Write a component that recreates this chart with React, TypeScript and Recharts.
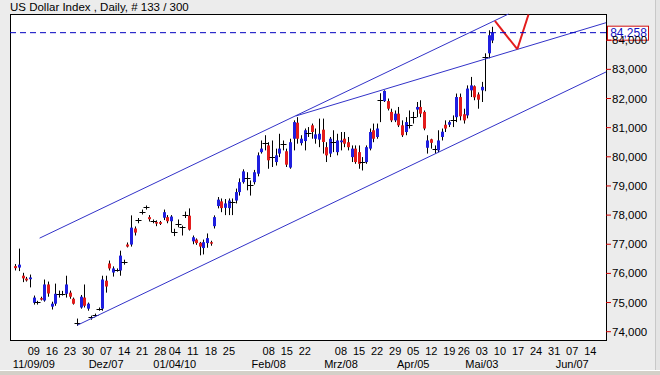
import React from 'react';
import { ComposedChart, Bar, XAxis, YAxis, ReferenceLine } from 'recharts';

// daily OHLC (bar 0 = early Nov 2009)
const opens = [
  76.25, 76.2, 75.92, 75.82, 75.8, 74.99, 75.0, 75.15, 75.07, 75.62,
  74.86, 74.96, 75.3, 75.31, 75.3, 75.34, 75.13, 74.3, 74.83, 75.17,
  74.79, 74.47, 74.53, 74.76, 74.79, 75.75, 76.34, 76.03, 76.1, 76.1,
  76.37, 76.99, 76.99, 77.54, 77.8, 78.08, 78.24, 77.93, 77.78, 77.76,
  77.76, 77.91, 77.93, 77.79, 77.39, 77.71, 77.6, 78.0, 77.98, 77.1,
  77.16, 77.05, 76.87, 77.04, 77.07, 77.62, 78.31, 78.47, 78.25, 78.24,
  78.42, 78.5, 78.79, 79.13, 79.25, 79.02, 79.13, 79.42, 80.16, 80.46,
  80.39, 79.98, 79.82, 80.11, 80.41, 80.19, 79.63, 80.62, 81.17, 80.47,
  80.54, 80.83, 81.08, 80.62, 80.59, 80.93, 80.33, 80.11, 80.5, 80.16,
  80.5, 80.62, 80.5, 79.99, 80.28, 80.16, 79.8, 79.82, 80.28, 80.91,
  80.68, 81.95, 81.91, 81.91, 81.54, 81.25, 81.48, 81.08, 80.85, 81.08,
  81.36, 81.62, 81.71, 81.54, 80.31, 80.6, 80.26, 80.22, 80.68, 81.1,
  81.1, 81.23, 81.36, 82.05, 81.46, 81.42, 82.28, 82.42, 82.14, 82.28,
  83.38, 83.55, 83.99,
];
const highs = [
  76.32, 76.85, 76.02, 75.88, 75.96, 75.24, 75.06, 75.2, 75.79, 75.72,
  75.03, 75.65, 75.41, 75.4, 75.92, 75.41, 75.17, 74.45, 75.26, 75.62,
  75.0, 74.55, 74.62, 74.83, 75.92, 75.92, 76.44, 76.24, 76.17, 76.78,
  76.47, 77.06, 77.99, 77.61, 77.9, 78.19, 78.33, 78.0, 77.85, 77.82,
  77.8, 78.19, 78.0, 78.0, 77.53, 77.85, 77.64, 78.12, 78.23, 77.3,
  77.2, 77.08, 77.16, 77.37, 77.12, 77.99, 78.62, 78.57, 78.55, 78.57,
  78.57, 78.91, 79.26, 79.57, 79.47, 79.19, 79.55, 80.15, 80.56, 80.74,
  80.5, 80.56, 80.28, 80.79, 80.56, 80.28, 80.62, 81.25, 81.36, 80.74,
  80.97, 81.02, 81.14, 80.97, 81.31, 81.31, 80.5, 80.68, 80.91, 80.79,
  80.85, 80.85, 80.68, 80.39, 80.39, 80.39, 79.99, 80.39, 80.97, 81.14,
  81.14, 82.18, 82.28, 82.0, 81.65, 81.59, 81.71, 81.25, 81.36, 81.59,
  81.54, 81.88, 81.94, 81.59, 80.74, 80.62, 80.39, 80.91, 80.97, 81.25,
  81.25, 81.42, 82.17, 82.17, 81.65, 82.45, 82.74, 82.45, 82.21, 82.57,
  83.55, 84.34, 84.46,
];
const lows = [
  76.1, 76.08, 75.7, 75.72, 75.52, 74.93, 74.93, 75.07, 75.03, 75.2,
  74.76, 74.89, 75.17, 75.24, 75.17, 75.13, 74.93, 74.2, 74.79, 74.83,
  74.72, 74.41, 74.5, 74.72, 74.72, 75.34, 76.1, 75.89, 76.06, 75.92,
  76.3, 76.89, 76.92, 77.3, 77.72, 78.02, 78.19, 77.78, 77.72, 77.62,
  77.66, 77.83, 77.72, 77.41, 77.28, 77.58, 77.3, 77.9, 77.47, 77.0,
  76.98, 76.62, 76.65, 76.88, 76.95, 77.54, 78.23, 78.1, 78.0, 78.0,
  78.0, 78.4, 78.67, 79.08, 78.85, 78.67, 79.05, 79.33, 80.11, 80.22,
  79.59, 79.65, 79.7, 79.99, 80.22, 79.65, 79.59, 80.22, 80.45, 80.39,
  80.22, 80.68, 80.62, 80.45, 80.33, 80.11, 79.82, 79.99, 80.16, 80.05,
  80.22, 80.33, 80.22, 79.82, 79.76, 79.59, 79.53, 79.76, 80.22, 80.5,
  80.62, 81.19, 81.88, 81.59, 81.19, 81.19, 81.02, 80.68, 80.74, 80.97,
  81.14, 81.36, 81.36, 80.91, 80.11, 80.28, 80.11, 80.16, 80.56, 80.85,
  81.02, 81.02, 81.19, 81.25, 81.14, 81.32, 82.05, 81.94, 81.65, 81.88,
  82.25, 83.38, 83.9,
];
const closes = [
  76.18, 76.3, 75.83, 75.76, 75.86, 75.17, 75.02, 75.1, 75.62, 75.31,
  74.96, 75.3, 75.31, 75.3, 75.62, 75.2, 74.96, 74.31, 75.2, 74.89,
  74.96, 74.49, 74.56, 74.79, 75.79, 75.55, 76.17, 76.17, 76.12, 76.61,
  76.39, 76.92, 77.57, 77.4, 77.82, 78.12, 78.27, 77.86, 77.8, 77.71,
  77.7, 78.1, 77.79, 77.95, 77.41, 77.7, 77.56, 78.02, 77.5, 77.24,
  77.04, 76.92, 77.07, 77.21, 77.02, 77.93, 78.53, 78.24, 78.4, 78.5,
  78.45, 78.79, 79.13, 79.5, 79.27, 79.0, 79.47, 80.05, 80.28, 80.43,
  79.88, 80.0, 80.05, 80.28, 80.43, 79.73, 80.5, 81.19, 80.62, 80.62,
  80.91, 80.8, 80.85, 80.77, 80.79, 80.51, 80.05, 80.62, 80.48, 80.56,
  80.56, 80.45, 80.33, 80.28, 79.82, 79.76, 79.82, 80.33, 80.85, 80.62,
  80.97, 81.92, 82.26, 81.65, 81.25, 81.48, 81.08, 80.74, 81.19, 81.1,
  81.38, 81.71, 81.48, 80.97, 80.56, 80.48, 80.24, 80.56, 80.86, 80.97,
  81.19, 81.25, 82.05, 81.39, 81.25, 82.34, 82.45, 82.04, 81.96, 82.4,
  83.42, 84.17, 84.258,
];

const dayTicks = [5, 10, 15, 20, 25, 30, 35, 40, 44, 49, 54, 59, 70, 75, 80, 90, 95, 100, 105, 110, 115, 120, 124, 129, 134, 139, 144, 149, 154, 159];
const dayLabels = ['09', '16', '23', '30', '07', '14', '21', '28', '04', '11', '18', '25', '08', '15', '22', '08', '15', '22', '29', '05', '12', '19', '26', '03', '10', '17', '24', '31', '07', '14'];
const monthTicks = [5, 25, 44, 70, 90, 110, 129, 154];
const monthLabels = ['11/09/09', 'Dez/07', '01/04/10', 'Feb/08', 'Mrz/08', 'Apr/05', 'Mai/03', 'Jun/07'];
const priceTicks = [74, 75, 76, 77, 78, 79, 80, 81, 82, 83, 84];
const lastClose = 84.258;

// drawn trend lines, [x1, y1, x2, y2] in bar index / price
const channelLow = [17, 74.22, 163.35, 82.91];
const channelHigh = [6.6, 77.21, 136.4, 84.9];
const resistance = [77.5, 81.4, 163.35, 84.6];
const projection = [[132.6, 84.66], [138.8, 83.69], [141.9, 84.88]];

const font = '"Liberation Sans", Arial, sans-serif';
const upColor = '#1f1fe0';
const downColor = '#e31c1c';
const lineColor = '#3232c8';

const data = opens.map((o, i) => ({
  i,
  o,
  h: highs[i],
  l: lows[i],
  c: closes[i],
  range: [lows[i], highs[i]],
}));

const fmt = (v: number) => v.toFixed(3).replace('.', ',');

const Candle = (props: any) => {
  const { x, y, width, height, payload } = props;
  if (!payload || height == null) return null;
  const { o, h, l, c } = payload;
  const k = height / (h - l);
  const py = (v: number) => y + (h - v) * k;
  const cx = Math.round(x + width / 2) + 0.5;
  const top = py(Math.max(o, c));
  const bodyH = py(Math.min(o, c)) - top;
  return (
    <g>
      <line x1={cx} x2={cx} y1={y} y2={y + height} stroke="#000" />
      {bodyH < 1.2 ? (
        <line x1={cx - 3} x2={cx + 3} y1={Math.round(top) + 0.5} y2={Math.round(top) + 0.5} stroke="#000" />
      ) : (
        <rect x={cx - 1.5} y={top} width={3} height={bodyH} fill={c >= o ? upColor : downColor} />
      )}
    </g>
  );
};

const DayTick = (props: any) => {
  const { x, y, payload } = props;
  const k = dayTicks.indexOf(payload.value);
  const m = monthTicks.indexOf(payload.value);
  return (
    <g fontFamily={font} fontSize={11} fill="#000">
      <text x={x} y={y + 15} textAnchor="middle">{dayLabels[k]}</text>
      {m >= 0 && (
        <text x={x} y={y + 28} textAnchor="middle">{monthLabels[m]}</text>
      )}
    </g>
  );
};

const LastLabel = (props: any) => {
  const { viewBox } = props;
  const x = viewBox.x + viewBox.width + 1;
  const y = viewBox.y;
  return (
    <g>
      <rect x={x + 0.5} y={y - 6.5} width={41} height={14} fill="#fff" stroke="#d01010" />
      <text x={x + 21.5} y={y + 4.5} textAnchor="middle" fontFamily={font} fontSize={12} fill="#1010c0">
        {fmt(lastClose)}
      </text>
    </g>
  );
};

export default function App() {
  return (
    <div style={{ position: 'absolute', left: 0, top: 0, width: 660, height: 375, background: '#ececec', overflow: 'hidden' }}>
      <div style={{ position: 'absolute', left: 10, top: 1, fontFamily: font, fontSize: 11.5, color: '#000' }}>
        US Dollar Index , Daily, # 133 / 300
      </div>
      <div style={{ position: 'absolute', left: 10, top: 14, width: 597, height: 327, background: '#fff', border: '1px solid #000', boxSizing: 'border-box' }} />
      <div style={{ position: 'absolute', left: 655, top: 0, width: 5, height: 370, background: '#e4e4e4', borderLeft: '1px solid #c8c8c8' }} />
      <div style={{ position: 'absolute', left: 0, top: 370, width: 660, height: 5, background: '#d4d0c8', borderTop: '1px solid #fff' }} />
      <div style={{ position: 'absolute', left: 0, top: 0 }}>
        <ComposedChart width={660} height={375} data={data} margin={{ top: 14, right: 0, bottom: 0, left: 10 }}>
          <XAxis
            dataKey="i"
            type="number"
            domain={[-1.6, 163.35]}
            allowDataOverflow
            ticks={dayTicks}
            interval={0}
            tick={<DayTick />}
            tickLine={false}
            axisLine={false}
            tickSize={0}
            tickMargin={0}
            height={35}
          />
          <YAxis
            orientation="right"
            domain={[73.715, 84.899]}
            allowDataOverflow
            ticks={priceTicks}
            interval={0}
            tickFormatter={fmt}
            axisLine={false}
            tickLine={{ stroke: '#d00000' }}
            tickSize={5}
            tickMargin={1}
            width={54}
            tick={{ fill: '#000', fontSize: 11.5, fontFamily: font }}
          />
          <ReferenceLine segment={[{ x: channelLow[0], y: channelLow[1] }, { x: channelLow[2], y: channelLow[3] }]} stroke={lineColor} ifOverflow="visible" />
          <ReferenceLine segment={[{ x: channelHigh[0], y: channelHigh[1] }, { x: channelHigh[2], y: channelHigh[3] }]} stroke={lineColor} ifOverflow="visible" />
          <ReferenceLine segment={[{ x: resistance[0], y: resistance[1] }, { x: resistance[2], y: resistance[3] }]} stroke={lineColor} ifOverflow="visible" />
          <ReferenceLine segment={[{ x: projection[0][0], y: projection[0][1] }, { x: projection[1][0], y: projection[1][1] }]} stroke={downColor} strokeWidth={2} ifOverflow="visible" />
          <ReferenceLine segment={[{ x: projection[1][0], y: projection[1][1] }, { x: projection[2][0], y: projection[2][1] }]} stroke={downColor} strokeWidth={2} ifOverflow="visible" />
          <Bar dataKey="range" barSize={3} shape={<Candle />} isAnimationActive={false} />
          <ReferenceLine y={lastClose} stroke="#0000c0" strokeDasharray="6 4" ifOverflow="visible" label={<LastLabel />} />
        </ComposedChart>
      </div>
    </div>
  );
}
